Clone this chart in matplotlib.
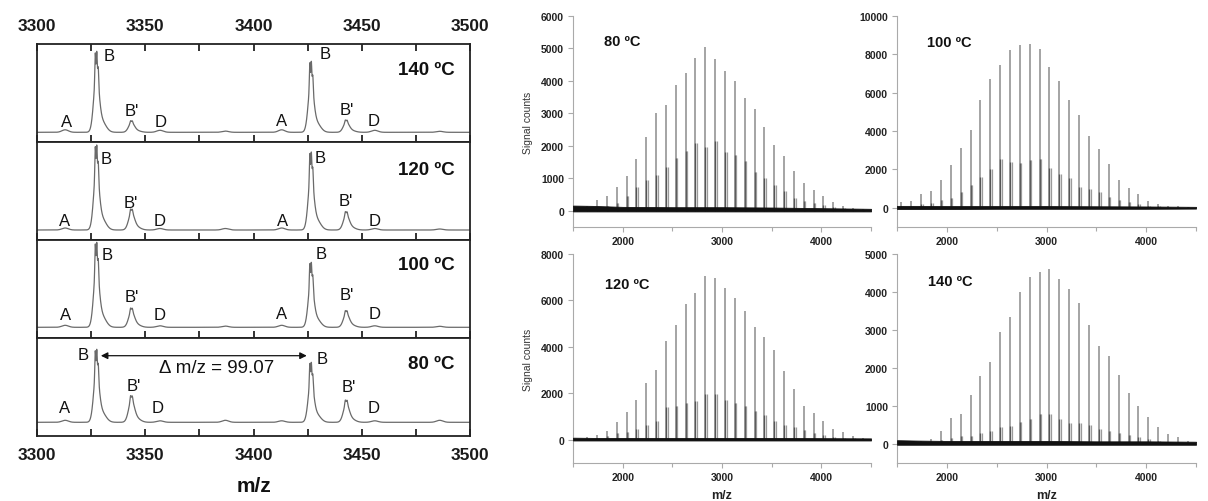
import numpy as np
import matplotlib
matplotlib.use('Agg')
import matplotlib.pyplot as plt
from matplotlib.ticker import FixedLocator, NullFormatter

plt.rcParams['font.family'] = ['Liberation Sans', 'DejaVu Sans']

# ================= DATA =================
# ---- Left: zoomed spectra (3300-3500 m/z), panels top->bottom ----
zoom_temps = ['140 ºC', '120 ºC', '100 ºC', '80 ºC']
zoom_tick_values = [3300, 3325, 3350, 3375, 3400, 3425, 3450, 3475, 3500]
zoom_tick_labels = ['3300', '', '3350', '', '3400', '', '3450', '', '3500']
peak_A = [3313.0, 3413.0]
peak_B = [3327.1, 3426.2]
peak_Bp = [3343.2, 3442.4]
peak_D = [3356.8, 3456.0]
peak_minor = [3387.0, 3486.0]
# intensities (arbitrary units above baseline) [first group, second group]
B_heights = [[81, 71], [85, 78], [85, 65], [73, 60]]
Bp_heights = [[11.6, 12.3], [21, 18.4], [19.3, 16.7], [26.7, 22.3]]
A_heights = [[2.5, 2.5], [2.0, 2.0], [2.0, 2.0], [2.0, 1.5]]
D_heights = [[2.0, 2.0], [1.5, 1.5], [1.5, 1.5], [1.5, 1.5]]
minor_heights = [[1.2, 1.0], [1.5, 1.0], [1.2, 1.0], [2.0, 2.0]]
delta_label = 'Δ m/z = 99.07'

# ---- Right: full spectra ----
full_temps = ['80 ºC', '100 ºC', '120 ºC', '140 ºC']
series_mz = [1544, 1643, 1742, 1841, 1940, 2039, 2139, 2238, 2337, 2436,
             2535, 2634, 2733, 2832, 2931, 3030, 3129, 3228, 3328, 3427,
             3526, 3625, 3724, 3823, 3922, 4021, 4120, 4219, 4318, 4417]
B_counts = {
    '80 ºC': [60, 150, 330, 440, 720, 1060, 1600, 2280, 3010, 3260,
              3880, 4250, 4700, 5060, 4680, 4300, 4010, 3470, 3130, 2570,
              2040, 1690, 1230, 850, 640, 460, 280, 150, 100, 60],
    '100 ºC': [300, 365, 700, 870, 1460, 2210, 3100, 4070, 5630, 6730,
               7460, 8210, 8490, 8560, 8280, 7340, 6590, 5600, 4850, 3720,
               3080, 2260, 1460, 1040, 700, 380, 210, 120, 80, 50],
    '120 ºC': [40, 100, 215, 390, 775, 1180, 1710, 2440, 3020, 4270,
               4940, 5850, 6320, 7040, 6980, 6540, 6120, 5530, 4870, 4440,
               3880, 2950, 2180, 1440, 1160, 830, 460, 345, 170, 80],
    '140 ºC': [40, 60, 90, 130, 350, 680, 790, 1300, 1780, 2150,
               2940, 3330, 4010, 4390, 4520, 4600, 4340, 4080, 3700, 3130,
               2590, 2320, 1820, 1340, 1010, 720, 440, 260, 190, 90],
}
Bp_offset = 16.0
Bp_counts = {
    '80 ºC': [20, 40, 100, 150, 250, 470, 720, 950, 1100, 1350,
              1620, 1850, 2080, 1950, 2150, 1800, 1720, 1530, 1200, 1000,
              780, 600, 400, 300, 230, 180, 120, 80, 60, 30],
    '100 ºC': [80, 100, 200, 260, 400, 520, 800, 1200, 1620, 2000,
               2550, 2380, 2350, 2500, 2550, 2100, 1750, 1550, 1100, 980,
               800, 550, 400, 300, 200, 120, 70, 40, 30, 20],
    '120 ºC': [20, 40, 80, 150, 280, 350, 450, 650, 800, 1400,
               1450, 1600, 1650, 1950, 1950, 1700, 1600, 1450, 1250, 1050,
               800, 650, 550, 400, 300, 200, 130, 90, 60, 30],
    '140 ºC': [10, 20, 30, 50, 100, 150, 200, 200, 280, 330,
               450, 480, 580, 650, 800, 800, 650, 560, 560, 500,
               400, 350, 300, 250, 180, 120, 80, 60, 40, 20],
}
baseline_mz = [1500, 1700, 2000, 2500, 3000, 3500, 4000, 4500]
baseline_hi = {
    '80 ºC': [160, 150, 120, 110, 110, 100, 80, 60],
    '100 ºC': [100, 100, 90, 90, 90, 80, 70, 50],
    '120 ºC': [90, 80, 80, 80, 80, 80, 70, 60],
    '140 ºC': [100, 90, 80, 80, 80, 70, 70, 60],
}
baseline_lo = {
    '80 ºC': [-20, -20, -20, -20, -20, -20, -20, -20],
    '100 ºC': [-60, -60, -60, -50, -50, -50, -50, -40],
    '120 ºC': [-30, -30, -30, -30, -30, -30, -30, -30],
    '140 ºC': [-20, -20, -20, -20, -20, -20, -20, -20],
}
full_ylim = {'80 ºC': (-500, 6000), '100 ºC': (-1000, 10000),
             '120 ºC': (-1000, 8000), '140 ºC': (-500, 5000)}
full_yticks = {'80 ºC': [0, 1000, 2000, 3000, 4000, 5000, 6000],
               '100 ºC': [0, 2000, 4000, 6000, 8000, 10000],
               '120 ºC': [0, 2000, 4000, 6000, 8000],
               '140 ºC': [0, 1000, 2000, 3000, 4000, 5000]}
full_xticks = [2000, 3000, 4000]
full_xminor = [1500, 2500, 3500, 4500]

# ================= LINE SHAPES (style) =================
shape_B = [(0.3, 1.0, 1.2), (-0.2, 0.5, 0.2), (0.5, 0.42, 0.2),
           (1.2, 0.3, 0.22), (2.6, 0.22, 2.0)]
shape_Bp = [(0.4, 1.0, 1.3), (0.0, 0.28, 0.25), (0.8, 0.22, 0.25), (2.4, 0.22, 2.0)]
shape_small = [(0.0, 1.0, 1.5)]


def profile(x, center, comps):
    y = np.zeros_like(x)
    for off, rel, sig in comps:
        y += rel * np.exp(-0.5 * ((x - center - off) / sig) ** 2)
    return y


# ================= FIGURE =================
fig = plt.figure(figsize=(12.08, 5.02), dpi=100)
W, H = 1208.0, 502.0

# ---- left column ----
panel_tops = [45, 143, 241, 339]
panel_h = 98
baseline_gap = [9.7, 10.0, 10.7, 13.7]
temp_y = [0.738, 0.724, 0.755, 0.735]
labels_layout = [
    [('A', 3313.7, 11), ('B', 3333.5, 76.6), ("B'", 3343.7, 22), ('D', 3357.3, 11),
     ('A', 3413.0, 12), ('B', 3433.3, 79), ("B'", 3443.0, 23), ('D', 3455.7, 12)],
    [('A', 3312.6, 9.3), ('B', 3331.9, 71.7), ("B'", 3343.4, 27.7), ('D', 3356.5, 9.3),
     ('A', 3413.3, 9.4), ('B', 3430.7, 72), ("B'", 3442.6, 30), ('D', 3455.8, 9.4)],
    [('A', 3313.2, 12.3), ('B', 3332.6, 73.3), ("B'", 3343.7, 30.7), ('D', 3356.5, 12.3),
     ('A', 3413.0, 14), ('B', 3431.2, 74), ("B'", 3443.0, 32.3), ('D', 3456.0, 14)],
    [('A', 3312.6, 15), ('B', 3321.4, 68.3), ("B'", 3344.5, 36.7), ('D', 3355.7, 15),
     ('B', 3431.5, 64.3), ("B'", 3443.8, 35.7), ('D', 3455.3, 15)],
]

x = np.linspace(3300, 3500, 8001)
nB = profile(x, 3400, shape_B).max()
nBp = profile(x, 3400, shape_Bp).max()

left_axes = []
for i in range(4):
    top = panel_tops[i]
    ax = fig.add_axes([37 / W, 1 - (top + panel_h) / H, 433 / W, panel_h / H])
    left_axes.append(ax)
    y = np.zeros_like(x)
    for g in range(2):
        y += B_heights[i][g] * profile(x, peak_B[g], shape_B) / nB
        y += Bp_heights[i][g] * profile(x, peak_Bp[g], shape_Bp) / nBp
        y += A_heights[i][g] * profile(x, peak_A[g], shape_small)
        y += D_heights[i][g] * profile(x, peak_D[g], shape_small)
        y += minor_heights[i][g] * profile(x, peak_minor[g], shape_small)
    ax.plot(x, y, color='#6a6a6a', lw=0.9)
    ax.set_xlim(3300, 3500)
    ax.set_ylim(-baseline_gap[i], panel_h - baseline_gap[i])
    ax.set_yticks([])
    ax.xaxis.set_major_locator(FixedLocator(zoom_tick_values))
    ax.set_xticklabels(zoom_tick_labels)
    for s in ax.spines.values():
        s.set_linewidth(1.3)
        s.set_color('#222222')
    ax.tick_params(axis='x', direction='in', length=5, width=1.3, color='#222222',
                   labelsize=12.5, pad=8, labelcolor='#1a1a1a',
                   bottom=True, top=(i == 0), labelbottom=(i == 3), labeltop=(i == 0))
    for lab in ax.get_xticklabels():
        lab.set_fontweight('bold')
    for (t, lx, ly) in labels_layout[i]:
        ax.text(lx, ly, t, ha='center', va='center', fontsize=12, color='#111111')
    ax.text(0.965, temp_y[i], zoom_temps[i], transform=ax.transAxes, ha='right',
            va='center', fontsize=13.5, fontweight='bold', color='#111111')

ax80 = left_axes[3]
ax80.annotate('', xy=(3424.6, 66.6), xytext=(3329.5, 66.6),
              arrowprops=dict(arrowstyle='<|-|>', color='#111111', lw=0.9,
                              mutation_scale=10, shrinkA=0, shrinkB=0))
ax80.text(3383, 55, delta_label, ha='center', va='center', fontsize=13.5, color='#111111')
ax80.set_xlabel('m/z', fontsize=15, fontweight='bold', labelpad=10, color='#111111')

# ---- right column ----
right_boxes = {
    '80 ºC': (573, 17, 298, 211),
    '100 ºC': (897, 17, 299, 211),
    '120 ºC': (573, 255, 298, 209),
    '140 ºC': (897, 255, 299, 209),
}
temp_pos = {'80 ºC': (0.104, 0.883), '100 ºC': (0.099, 0.875),
            '120 ºC': (0.107, 0.856), '140 ºC': (0.103, 0.869)}

mz = np.array(series_mz, dtype=float)
bl_mz = np.array(baseline_mz, dtype=float)
for t in full_temps:
    x0, y0, w, h = right_boxes[t]
    ax = fig.add_axes([x0 / W, 1 - (y0 + h) / H, w / W, h / H])
    ax.vlines(mz, 0, B_counts[t], color='#8c8c8c', lw=1.1, zorder=2)
    ax.vlines(mz, 0, Bp_counts[t], color='#555555', lw=1.0, zorder=2)
    ax.vlines(mz + Bp_offset, 0, Bp_counts[t], color='#9a9a9a', lw=0.9, zorder=2)
    ax.fill_between(bl_mz, baseline_lo[t], baseline_hi[t], color='#111111', lw=0.6, zorder=3)
    ax.set_xlim(1500, 4500)
    ax.set_ylim(*full_ylim[t])
    ax.set_yticks(full_yticks[t])
    ax.xaxis.set_major_locator(FixedLocator(full_xticks))
    ax.xaxis.set_minor_locator(FixedLocator(full_xminor))
    ax.xaxis.set_minor_formatter(NullFormatter())
    for side in ['top', 'right']:
        ax.spines[side].set_visible(False)
    for side in ['left', 'bottom']:
        ax.spines[side].set_color('#aaaaaa')
        ax.spines[side].set_linewidth(0.8)
    ax.tick_params(which='both', direction='out', color='#aaaaaa', width=0.8,
                   labelsize=7.5, labelcolor='#222222', pad=3)
    ax.tick_params(which='major', length=3.5)
    ax.tick_params(which='minor', length=3)
    for lab in ax.get_xticklabels() + ax.get_yticklabels():
        lab.set_fontweight('bold')
    tx, ty = temp_pos[t]
    ax.text(tx, ty, t, transform=ax.transAxes, ha='left', va='center',
            fontsize=10.5, fontweight='bold', color='#111111')
    if t in ('80 ºC', '120 ºC'):
        ax.set_ylabel('Signal counts', fontsize=7.5, color='#333333', labelpad=6)
    if t in ('120 ºC', '140 ºC'):
        ax.set_xlabel('m/z', fontsize=9, fontweight='bold', color='#222222', labelpad=5)

fig.savefig('out.png', dpi=100)
